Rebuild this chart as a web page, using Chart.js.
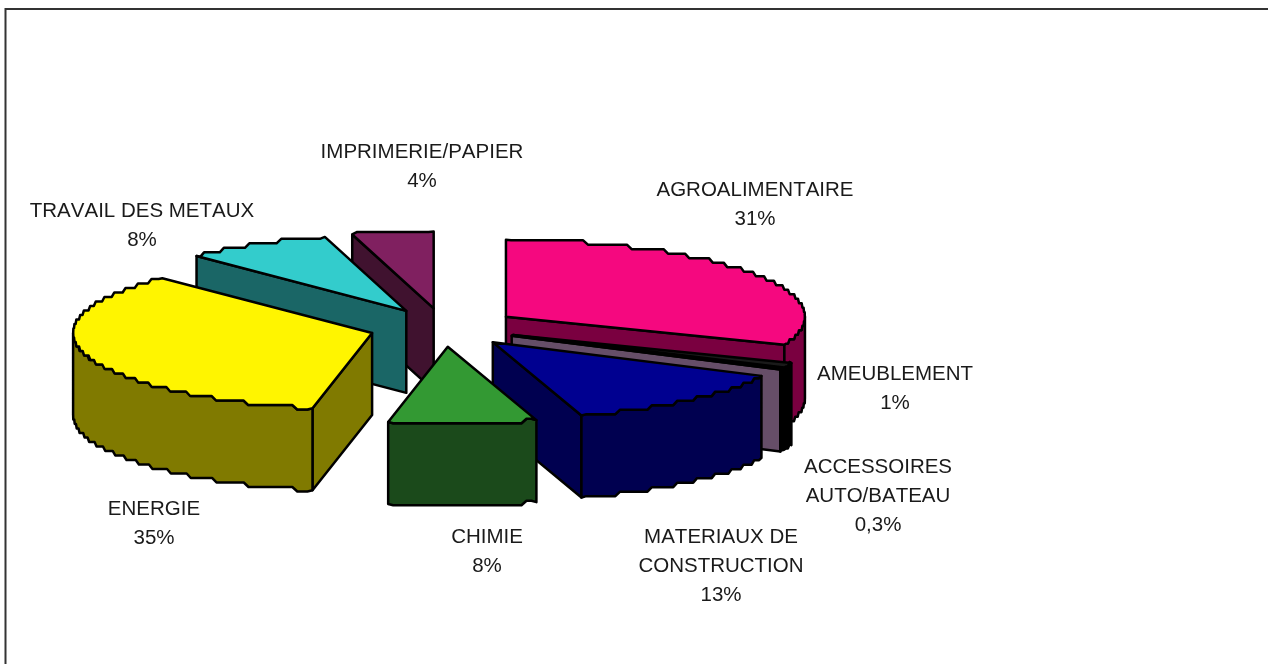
<!DOCTYPE html>
<html><head><meta charset="utf-8">
<style>html,body{margin:0;padding:0;background:#fff;overflow:hidden}canvas{display:block}</style>
<script src="https://cdn.jsdelivr.net/npm/chart.js@4"></script>
</head><body><canvas id="c" width="1268" height="664"></canvas>
<script>
const categories = ["AGROALIMENTAIRE","AMEUBLEMENT","ACCESSOIRES\nAUTO/BATEAU","MATERIAUX DE\nCONSTRUCTION","CHIMIE","ENERGIE","TRAVAIL DES METAUX","IMPRIMERIE/PAPIER"];
const values = [31,1,0.3,13,8,34.5,8,4.4];
const percentLabels = ["31%","1%","0,3%","13%","8%","35%","8%","4%"];
const topColors = ["#F5087F","#1A1A1A","#CC99CC","#000090","#339933","#FFF500","#33CCCC","#802060"];
const sideColors = ["#7A0040","#000000","#664E68","#000050","#1B4A1B","#807A00","#1A6666","#40122F"];

const TILT = 0.257, DEPTH = 82;
const labelCenters = [[755,190],[895,374],[878,467],[721,537],[487,537],[154,509],[142,211],[422,152]];

function pt(g, a, dy){ return [g.x + g.r*Math.cos(a), g.y + g.r*TILT*Math.sin(a) + (dy||0)]; }
function rim(g, a0, a1, dy){
  const n = Math.max(1, Math.ceil((a1-a0)/(Math.PI/180)));
  const out = [];
  for(let i=0;i<=n;i++){
    const p = pt(g, a0+(a1-a0)*i/n, 0);
    if(i>0 && i<n) p[1] = g.y + Math.round((p[1]-g.y)/4.5)*4.5;
    p[1] += dy||0;
    out.push(p);
  }
  return out;
}
function poly(ctx, pts, fill){
  ctx.beginPath();
  pts.forEach((p,i)=> i? ctx.lineTo(p[0],p[1]) : ctx.moveTo(p[0],p[1]));
  ctx.closePath();
  ctx.fillStyle = fill; ctx.fill(); ctx.stroke();
}
const pie3d = {
  id:'pie3d',
  beforeDraw(chart){
    const ctx = chart.ctx;
    ctx.save();
    ctx.strokeStyle = '#333'; ctx.lineWidth = 2;
    ctx.beginPath(); ctx.moveTo(5.5,664); ctx.lineTo(5.5,9); ctx.lineTo(1268,9); ctx.stroke();
    ctx.restore();
  },
  beforeDatasetsDraw(chart){
    const ctx = chart.ctx, meta = chart.getDatasetMeta(0), ds = chart.data.datasets[0];
    ctx.save();
    ctx.strokeStyle = '#000'; ctx.lineWidth = 2.5; ctx.lineJoin = 'round';
    const order = meta.data.map((a,i)=>i).sort((p,q)=>{
      const m = i => (meta.data[i].startAngle+meta.data[i].endAngle)/2;
      return Math.sin(m(p))-Math.sin(m(q));
    });
    order.forEach(i=>{
      const arc = meta.data[i], s = arc.startAngle, e = arc.endAngle, mid = (s+e)/2;
      const off = arc.options.offset;
      const g = {x: arc.x + off*Math.cos(mid), y: arc.y + off*TILT*Math.sin(mid), r: arc.outerRadius};
      const apex = [g.x,g.y], ps = pt(g,s), pe = pt(g,e);
      const down = p => [p[0],p[1]+DEPTH];
      const side = ds.sideColor[i];
      if(Math.cos(s) < -1e-6) poly(ctx,[apex,ps,down(ps),down(apex)],side);
      if(Math.cos(e) > 1e-6) poly(ctx,[apex,pe,down(pe),down(apex)],side);
      const f0 = Math.max(s,0), f1 = Math.min(e,Math.PI);
      if(f1>f0) poly(ctx,[...rim(g,f0,f1,0),...rim(g,f0,f1,DEPTH).reverse()],side);
      poly(ctx,[apex,...rim(g,s,e,0)],arc.options.backgroundColor);
    });
    ctx.fillStyle = '#1a1a1a';
    ctx.font = '20.5px "Liberation Sans", Arial, sans-serif';
    ctx.fontKerning = 'none';
    ctx.textAlign = 'center'; ctx.textBaseline = 'middle';
    chart.data.labels.forEach((lab,i)=>{
      const lines = lab.split('\n').concat(percentLabels[i]);
      lines.forEach((t,k)=> ctx.fillText(t, labelCenters[i][0], labelCenters[i][1]+k*29));
    });
    ctx.restore();
    return false;
  }
};
new Chart(document.getElementById('c'),{
  type:'pie',
  data:{labels:categories,datasets:[{data:values,backgroundColor:topColors,sideColor:sideColors,offset:75,borderWidth:0}]},
  options:{
    responsive:false,animation:false,radius:299,
    layout:{padding:{left:0,top:0,right:380,bottom:9}},
    plugins:{legend:{display:false},tooltip:{enabled:false}},
    events:[]
  },
  plugins:[pie3d]
});
</script></body></html>
